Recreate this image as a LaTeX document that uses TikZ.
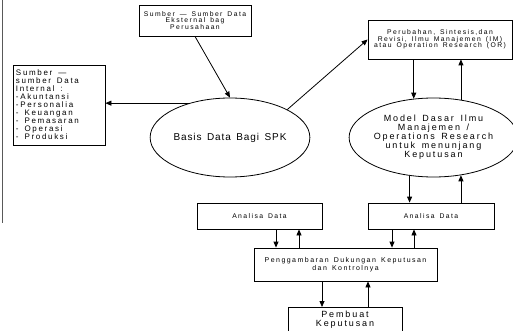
\documentclass[tikz,border=0pt]{standalone}
\usepackage{fontspec}
\setmainfont{Liberation Sans}
\newfontfamily\renggang[LetterSpace=21, WordSpace=1.5]{Liberation Sans}
\newfontfamily\renggangdikit[LetterSpace=9, WordSpace=1.5]{Liberation Sans}
\usetikzlibrary{positioning}
\usetikzlibrary{arrows.meta}
\usetikzlibrary{shapes.geometric}

\tikzset{
  kotak/.style={draw, rectangle, line width=0.8pt, inner sep=0pt, align=center},
  elips/.style={draw, ellipse, line width=0.8pt, inner sep=0pt, align=center},
  panah/.style={-{Triangle[length=6pt,width=5pt]}, line width=0.8pt},
  kecil/.style={font=\renggang\fontsize{6.8}{6.7}\selectfont},
  sedang/.style={font=\renggang\fontsize{9}{9}\selectfont},
}

\begin{document}
\begin{tikzpicture}[x=1pt, y=-1pt]
  \useasboundingbox (0,0) rectangle (513,331);
  \clip (0,0) rectangle (513,331);
  % sisa garis tepi di kiri
  \draw[line width=1.5pt, black!65] (2.5,0) -- (2.5,223);

  \node (ekst) [kotak, kecil, minimum width=112pt, minimum height=31pt] at (195,20.5)
    {Sumber — Sumber Data\\Eksternal bag\\Perusahaan};
  \node (intern) [kotak, align=flush left, font=\renggang\fontsize{8}{8}\selectfont,
    text width=86pt, inner xsep=3pt, minimum height=80pt] at (59,105)
    {Sumber —\\sumber Data\\Internal :\\-Akuntansi\\-Personalia\\- Keuangan\\- Pemasaran\\- Operasi\\- Produksi};
  \node (basis) [elips, font=\renggangdikit\fontsize{10}{12}\selectfont,
    minimum width=134pt, minimum height=79pt] at (230,137.5) {Basis Data Bagi SPK};
  \node (or) [kotak, kecil, minimum width=144pt, minimum height=39pt] at (440,39.5)
    {Perubahan, Sintesis,dan\\Revisi, Ilmu Manajemen (IM)\\atau Operation Research (OR)};
  \node (model) [elips, sedang, minimum width=127pt, minimum height=79pt] at (433.5,137.5)
    {Model Dasar Ilmu\\Manajemen /\\Operations Research\\untuk menunjang\\Keputusan};
  \node (anaL) [kotak, kecil, minimum width=125pt, minimum height=26pt] at (259.5,216) {Analisa Data};
  \node (anaR) [kotak, kecil, minimum width=126pt, minimum height=26pt] at (431,216) {Analisa Data};
  \node (gambar) [kotak, font=\renggang\fontsize{7}{6.5}\selectfont,
    minimum width=183pt, minimum height=33pt] at (345.5,264.5)
    {Penggambaran Dukungan Keputusan\\dan Kontrolnya};
  \node (pembuat) [kotak, sedang, anchor=north, minimum width=114pt, minimum height=25pt] at (345,307)
    {Pembuat\\Keputusan};

  % panah
  \draw[panah] (ekst.south) -- (basis.north);
  \draw[panah] (basis.140) -- (basis.140 -| intern.east);
  \draw[panah] (basis.26) -- (or.west);
  \draw[panah] (or.south -| model.117) -- (model.117);
  \draw[panah] (model.54) -- (model.54 |- or.south);
  \draw[panah] (model.238) -- (model.238 |- anaR.north);
  \draw[panah] (model.306 |- anaR.north) -- (model.306);
  \draw[panah] ([xshift=16.5pt]anaL.south) -- ([xshift=16.5pt]anaL.south |- gambar.north);
  \draw[panah] ([xshift=39.5pt]anaL.south |- gambar.north) -- ([xshift=39.5pt]anaL.south);
  \draw[panah] ([xshift=-39pt]anaR.south) -- ([xshift=-39pt]anaR.south |- gambar.north);
  \draw[panah] ([xshift=-17pt]anaR.south |- gambar.north) -- ([xshift=-17pt]anaR.south);
  \draw[panah] ([xshift=-23pt]pembuat.north |- gambar.south) -- ([xshift=-23pt]pembuat.north);
  \draw[panah] ([xshift=23pt]pembuat.north) -- ([xshift=23pt]pembuat.north |- gambar.south);
\end{tikzpicture}
\end{document}
